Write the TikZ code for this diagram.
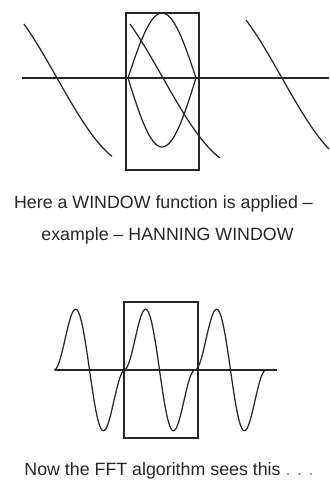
\documentclass[tikz,border=0pt]{standalone}
\usepackage{fontspec}
\setmainfont{Liberation Sans}
\usetikzlibrary{calc}

\begin{document}
\begin{tikzpicture}[x=1pt, y=-1pt, every node/.style={font=\fontsize{17.8}{20}\selectfont, text=black!85, inner sep=0pt, anchor=base},
		wave/.style={line width=1.25pt, black!85},
		frame/.style={line width=1.4pt, black!85}]
	\useasboundingbox (0,0) rectangle (329,486);
	% top: sine seen through the window
	\coordinate (ta) at (22,78); \coordinate (tb) at (329,78);
	\draw[frame] (126,13) rectangle (199,170);
	\draw[frame] (ta) -- (tb);
	\foreach \c/\a/\b in {57/-33/55, 163/-33/57, 282/-36/47}
		\draw[wave] plot[domain=\a:\b, samples=40, smooth] ({\c+\x}, {78+88*sin(deg(\x/50))});
	\draw[wave] plot[domain=0:1, samples=40, smooth] ({128+68*\x}, {78-65*sin(180*\x)});
	\draw[wave] plot[domain=0:1, samples=40, smooth] ({128+68*\x}, {78+69*sin(180*\x)});
	\node (l1) at (163.5,208) {Here a WINDOW function is applied –};
	\node (l2) at (167.5,240) {example – HANNING WINDOW};
	% bottom: windowed copies
	\coordinate (ba) at (55,370); \coordinate (bb) at (277,370);
	\draw[frame] (124,302) rectangle (198,438);
	\draw[frame] (ba) -- (bb);
	\foreach \o/\s in {54/0, 124/0, 195/0}
		\draw[wave] plot[domain=\s:1, samples=60, smooth] ({\o+71*\x}, {370-158*sin(180*\x)*sin(180*\x)*cos(180*\x)});
	\node (l3) at (169,475) {Now the FFT algorithm sees this {\color{black!50}. . .}};
\end{tikzpicture}
\end{document}
